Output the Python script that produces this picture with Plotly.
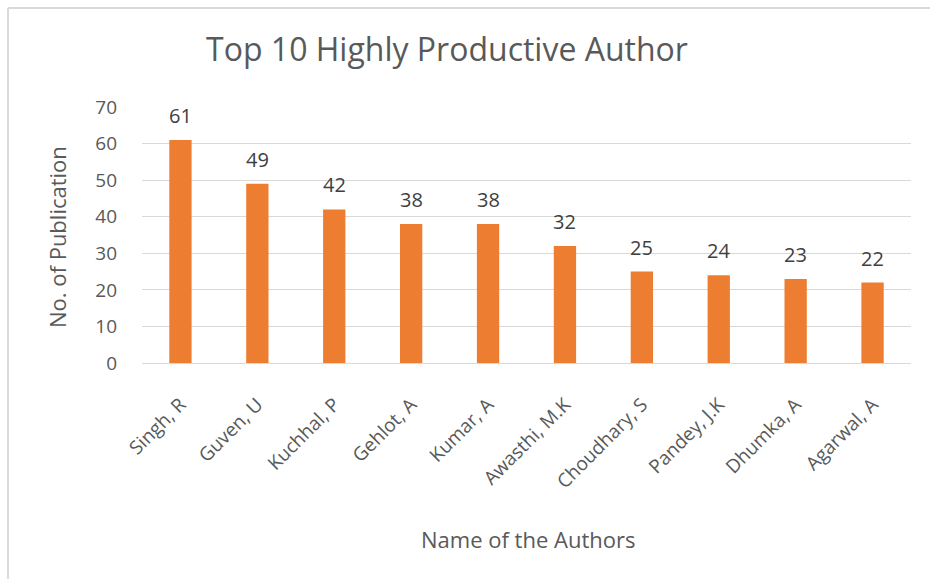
import plotly.graph_objects as go

authors = ["Singh, R", "Guven, U", "Kuchhal, P", "Gehlot, A", "Kumar, A",
           "Awasthi, M.K", "Choudhary, S", "Pandey, J.K", "Dhumka, A", "Agarwal, A"]
publications = [61, 49, 42, 38, 38, 32, 25, 24, 23, 22]
y_ticks = [0, 10, 20, 30, 40, 50, 60, 70]

W, H = 930, 579
ml, mr, mt, mb = 142, 19, 107, 216
pw, ph = W - ml - mr, H - mt - mb
FONT = "Open Sans"
GREY = "#595959"

fig = go.Figure(go.Bar(
    x=authors, y=publications,
    marker=dict(color="#ED7D31", line=dict(width=0)),
))

def px_x(p):
    return (p - ml) / pw

def px_y(p):
    return 1 - (p - mt) / ph

annotations = [
    dict(x=a, y=v, xref="x", yref="y", text=str(v), showarrow=False,
         yanchor="bottom", yshift=9, font=dict(size=20, color="#404040", family=FONT))
    for a, v in zip(authors, publications)
]
annotations.append(dict(text="Name of the Authors", xref="paper", yref="paper",
                        x=px_x(528), y=px_y(539), xanchor="center", yanchor="middle",
                        showarrow=False, font=dict(size=22, color=GREY, family=FONT)))
annotations.append(dict(text="No. of Publication", xref="paper", yref="paper",
                        x=px_x(57), y=px_y(237), xanchor="center", yanchor="middle",
                        textangle=-90, showarrow=False,
                        font=dict(size=22, color=GREY, family=FONT)))

fig.update_layout(
    width=W, height=H,
    margin=dict(l=ml, r=mr, t=mt, b=mb),
    paper_bgcolor="white", plot_bgcolor="white",
    bargap=0.71,
    showlegend=False,
    font=dict(family=FONT, color=GREY),
    title=dict(text="Top 10 Highly Productive Author", x=447 / W, xanchor="center",
               y=1 - 50 / H, yanchor="middle",
               font=dict(size=32, color=GREY, family=FONT)),
    xaxis=dict(tickangle=-45, tickfont=dict(size=19, color=GREY),
               showgrid=False, showline=True, linecolor="#D9D9D9", linewidth=1,
               ticks="", ticklabelstandoff=22),
    yaxis=dict(range=[0, 70], tickvals=y_ticks, tickfont=dict(size=19, color=GREY),
               showgrid=True, gridcolor="#D9D9D9", gridwidth=1, zeroline=False,
               ticks="", ticklabelstandoff=24),
    annotations=annotations,
    shapes=[
        dict(type="line", xref="paper", yref="paper", x0=px_x(8), x1=px_x(940),
             y0=px_y(8), y1=px_y(8), line=dict(color="#D9D9D9", width=2)),
        dict(type="line", xref="paper", yref="paper", x0=px_x(8), x1=px_x(8),
             y0=px_y(8), y1=px_y(590), line=dict(color="#D9D9D9", width=2)),
    ],
)

fig.write_html("out.html")
